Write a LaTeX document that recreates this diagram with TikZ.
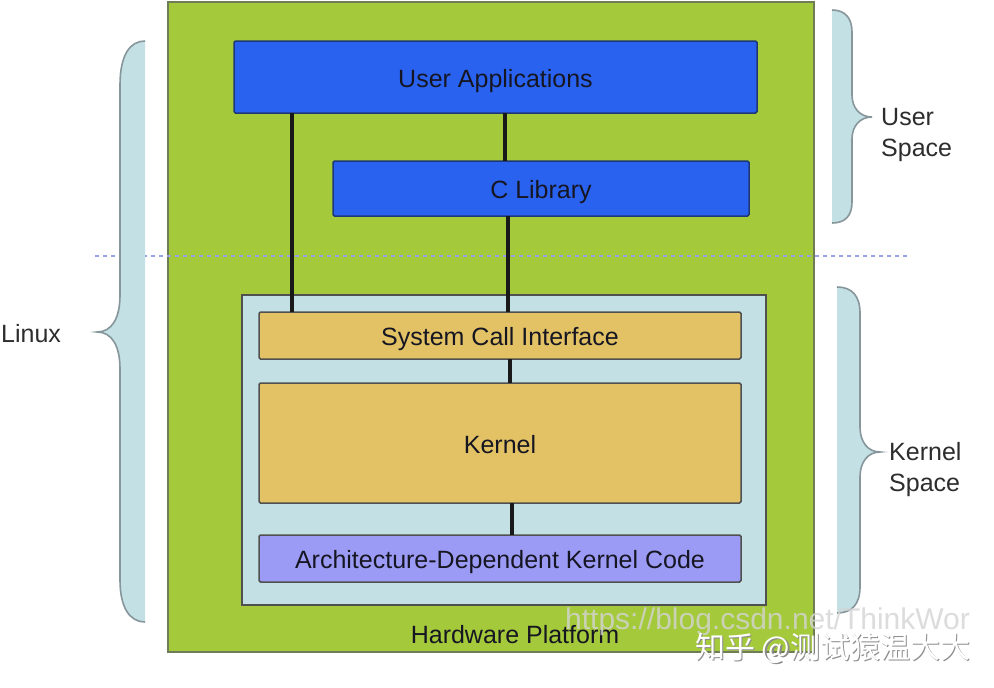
\documentclass[tikz,border=0pt]{standalone}
\usepackage{fontspec}
\setmainfont{Liberation Sans}
\newfontfamily\cjkfont{Noto Sans CJK SC}
\definecolor{hwgreen}{RGB}{164,201,59}
\definecolor{hwborder}{RGB}{110,125,85}
\definecolor{ublue}{RGB}{42,98,240}
\definecolor{ublueborder}{RGB}{30,55,120}
\definecolor{kspace}{RGB}{195,225,228}
\definecolor{kyellow}{RGB}{226,194,100}
\definecolor{apurple}{RGB}{155,155,245}
\definecolor{boxborder}{RGB}{80,80,80}
\definecolor{textdark}{RGB}{22,22,34}
\definecolor{labelgray}{RGB}{45,45,45}
\definecolor{bracefill}{RGB}{195,224,228}
\definecolor{bracestroke}{RGB}{135,150,155}
\definecolor{dashblue}{RGB}{150,162,232}
\definecolor{wmgray}{RGB}{212,212,212}
\tikzset{
  layerbox/.style={draw=boxborder, line width=1.5pt, rounded corners=1.5pt, outer sep=0pt, inner sep=0pt, anchor=north west, text=textdark, font=\fontsize{25}{30}\selectfont, text height=20pt, text depth=0pt},
  userbox/.style={layerbox, fill=ublue, draw=ublueborder},
  kbox/.style={layerbox, fill=kyellow},
  archbox/.style={layerbox, fill=apurple},
  conn/.style={line width=3.4pt, draw=black!90},
  sidelabel/.style={text=labelgray, font=\fontsize{25}{31}\selectfont, align=left, inner sep=0pt, anchor=west},
  bracefillstyle/.style={fill=bracefill},
  bracestrokestyle/.style={draw=bracestroke, line width=1.6pt},
}
\begin{document}
\begin{tikzpicture}[x=1pt,y=-1pt]
\clip (0,0) rectangle (994,688);
\fill[white] (0,0) rectangle (994,688);
% hardware platform
\node[draw=hwborder, fill=hwgreen, line width=1.5pt, outer sep=0pt, inner sep=0pt, anchor=north west, minimum width=646pt, minimum height=650pt] (hw) at (168,2) {};
\node[text=textdark, font=\fontsize{25}{30}\selectfont, inner sep=0pt] (hwlabel) at (515,635) {Hardware Platform};
% dashed separator
\coordinate (dashL) at (95,256);
\coordinate (dashR) at (910,256);
\draw[dashblue, line width=1.6pt, dash pattern=on 4pt off 4pt] (dashL) -- (dashR);
% kernel space background
\node[draw=boxborder, fill=kspace, line width=1.5pt, outer sep=0pt, inner sep=0pt, anchor=north west, minimum width=524pt, minimum height=310pt] (ks) at (242,295) {};
% boxes
\node[userbox, minimum width=523pt, minimum height=72pt] (ua) at (234,41) {User Applications};
\node[userbox, minimum width=416pt, minimum height=55pt] (clib) at (333,161) {C Library};
\node[kbox, minimum width=482pt, minimum height=47pt] (sci) at (259,312) {System Call Interface};
\node[kbox, minimum width=482pt, minimum height=120pt] (kern) at (259,383) {Kernel};
\node[archbox, minimum width=482pt, minimum height=47pt] (arch) at (259,535) {Architecture-Dependent Kernel Code};
% connectors
\draw[conn] ([xshift=58pt]ua.south west) -- ([xshift=58pt]ua.south west |- sci.north);
\draw[conn] ([xshift=172pt]clib.north west) -- ([xshift=172pt]clib.north west |- ua.south);
\draw[conn] ([xshift=175pt]clib.south west) -- ([xshift=175pt]clib.south west |- sci.north);
\draw[conn] ([xshift=251pt]sci.south west) -- ([xshift=251pt]sci.south west |- kern.north);
\draw[conn] ([xshift=253pt]kern.south west) -- ([xshift=253pt]kern.south west |- arch.north);
% braces
\def\linuxbrace{(145,41) .. controls (130,41) and (120,55) .. (120,85) -- (120,295) .. controls (120,318) and (112,332) .. (97,332) .. controls (112,332) and (120,346) .. (120,369) -- (120,580) .. controls (120,608) and (130,622) .. (145,622)}
\def\userbrace{(832,10) .. controls (845,10) and (852,18) .. (852,32) -- (852,95) .. controls (852,108) and (860,117) .. (872,117) .. controls (860,117) and (852,126) .. (852,139) -- (852,202) .. controls (852,216) and (845,223) .. (832,223)}
\def\kernelbrace{(837,287) .. controls (852,287) and (860,296) .. (860,313) -- (860,427) .. controls (860,442) and (868,452) .. (880,452) .. controls (868,452) and (860,462) .. (860,477) -- (860,587) .. controls (860,604) and (852,613) .. (837,613)}
\fill[bracefillstyle] \linuxbrace -- cycle;
\draw[bracestrokestyle] \linuxbrace;
\fill[bracefillstyle] \userbrace -- cycle;
\draw[bracestrokestyle] \userbrace;
\fill[bracefillstyle] \kernelbrace -- cycle;
\draw[bracestrokestyle] \kernelbrace;
% side labels
\node[sidelabel] (linux) at (1,334) {Linux};
\node[sidelabel] (uspace) at (881,135) {User\\Space};
\node[sidelabel] (kspacelabel) at (889,470) {Kernel\\Space};
% watermarks
\node[text=wmgray, opacity=0.8, font=\fontsize{30}{36}\selectfont, inner sep=0pt, anchor=west] (wm1) at (565,622) {https://blog.csdn.net/ThinkWor};
\node[text=black!45, font=\cjkfont\fontsize{30}{34}\selectfont, inner sep=0pt, anchor=west] (wm2s) at (696.2,649.2) {知乎 @测试猿温大大};
\node[text=white, font=\cjkfont\fontsize{30}{34}\selectfont, inner sep=0pt, anchor=west] (wm2) at (695,648) {知乎 @测试猿温大大};
\end{tikzpicture}
\end{document}
